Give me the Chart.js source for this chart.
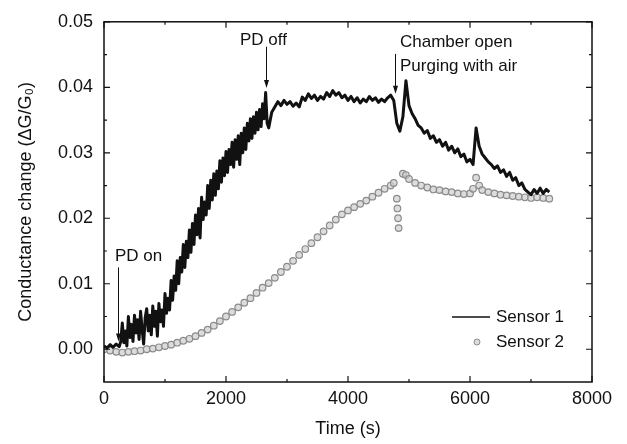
<!DOCTYPE html>
<html><head><meta charset="utf-8">
<script src="https://cdn.jsdelivr.net/npm/chart.js@4"></script>
<style>html,body{margin:0;padding:0;background:#fff}canvas{display:block}</style>
</head><body>
<canvas id="c" width="627" height="444"></canvas>
<script>
const xTicks=[0,2000,4000,6000,8000];
const xMinorTicks=[1000,3000,5000,7000];
const yTicks=[0,0.01,0.02,0.03,0.04,0.05];
const yMinorTicks=[0.005,0.015,0.025,0.035,0.045];
const seriesNames=['Sensor 1','Sensor 2'];
const xTitle='Time (s)';
const yTitle='Conductance change (\u0394G/G\u2080)';

const s1Time=[
0,50,100,150,200,
250,275,300,325,350,375,400,425,450,475,
500,525,550,575,600,625,650,675,700,725,
750,775,800,825,850,875,900,925,950,975,
1000,1025,1050,1075,1100,1125,1150,1175,1200,1225,
1250,1275,1300,1325,1350,1375,1400,1425,1450,1475,
1500,1525,1550,1575,1600,1625,1650,1675,1700,1725,
1750,1775,1800,1825,1850,1875,1900,1925,1950,1975,
2000,2025,2050,2075,2100,2125,2150,2175,2200,2225,
2250,2275,2300,2325,2350,2375,2400,2425,2450,2475,
2500,2525,2550,2575,2600,2625,2650,2675,2700,
2750,2800,2850,2900,2950,
3000,3050,3100,3150,3200,3250,3300,3350,3400,3450,
3500,3550,3600,3650,3700,3750,3800,3850,3900,3950,
4000,4050,4100,4150,4200,4250,4300,4350,4400,4450,
4500,4550,4600,4650,4700,4750,4800,4850,4900,4950,
5000,5050,5100,5150,5200,5250,5300,5350,5400,5450,
5500,5550,5600,5650,5700,5750,5800,5850,5900,5950,
6000,6050,6100,6150,6200,6250,6300,6350,6400,6450,
6500,6550,6600,6650,6700,6750,6800,6850,6900,6950,
7000,7050,7100,7150,7200,7250,7300];
const s1Value=[
0.0005,0.0002,0.0007,0.0003,0.0008,
0.0004,0.0012,0.0040,0.0010,0.0028,0.0005,0.0050,0.0018,0.0038,0.0012,
0.0052,0.0025,0.0045,0.0015,0.0058,0.0030,0.0008,0.0048,0.0062,0.0028,
0.0052,0.0022,0.0066,0.0035,0.0058,0.0020,0.0070,0.0042,0.0060,0.0035,
0.0085,0.0055,0.0078,0.0060,0.0105,0.0075,0.0112,0.0090,0.0135,0.0100,
0.0140,0.0118,0.0160,0.0125,0.0165,0.0140,0.0182,0.0148,0.0192,0.0160,
0.0205,0.0175,0.0215,0.0170,0.0232,0.0198,0.0225,0.0205,0.0250,0.0215,
0.0258,0.0228,0.0268,0.0235,0.0272,0.0245,0.0288,0.0255,0.0292,0.0265,
0.0302,0.0270,0.0305,0.0282,0.0316,0.0278,0.0320,0.0290,0.0326,0.0282,
0.0330,0.0300,0.0338,0.0305,0.0345,0.0318,0.0352,0.0322,0.0355,0.0330,
0.0362,0.0335,0.0366,0.0340,0.0375,0.0352,0.0392,0.0345,0.0338,
0.0362,0.0370,0.0378,0.0372,0.0380,
0.0374,0.0378,0.0371,0.0376,0.0370,0.0385,0.0380,0.0390,0.0383,0.0388,
0.0380,0.0386,0.0382,0.0392,0.0386,0.0395,0.0388,0.0392,0.0384,0.0388,
0.0380,0.0386,0.0378,0.0384,0.0376,0.0382,0.0378,0.0386,0.0380,0.0384,
0.0377,0.0382,0.0378,0.0384,0.0388,0.0380,0.0345,0.0333,0.0355,0.0410,
0.0372,0.0360,0.0352,0.0342,0.0338,0.0330,0.0334,0.0322,0.0326,0.0316,
0.0320,0.0310,0.0316,0.0304,0.0310,0.0300,0.0306,0.0294,0.0298,0.0286,
0.0290,0.0282,0.0338,0.0310,0.0298,0.0292,0.0286,0.0282,0.0276,0.0280,
0.0270,0.0274,0.0264,0.0270,0.0258,0.0262,0.0250,0.0254,0.0244,0.0240,
0.0236,0.0244,0.0238,0.0246,0.0238,0.0244,0.0240];

const s2Time=[
0,100,200,300,400,500,600,700,800,900,
1000,1100,1200,1300,1400,1500,1600,1700,1800,1900,
2000,2100,2200,2300,2400,2500,2600,2700,2800,2900,
3000,3100,3200,3300,3400,3500,3600,3700,3800,3900,
4000,4100,4200,4300,4400,4500,4600,4700,4750,
4800,4810,4820,4830,
4900,4950,5000,5100,5200,5300,5400,5500,5600,5700,5800,5900,
6000,6050,6100,6150,6200,6300,6400,6500,6600,6700,6800,6900,
7000,7100,7200,7300];
const s2Value=[
0.0000,-0.0002,-0.0004,-0.0005,-0.0004,-0.0003,-0.0002,0.0000,0.0001,0.0003,
0.0005,0.0007,0.0010,0.0013,0.0016,0.0020,0.0025,0.0030,0.0036,0.0043,
0.0050,0.0057,0.0064,0.0071,0.0078,0.0086,0.0094,0.0101,0.0109,0.0118,
0.0126,0.0135,0.0144,0.0153,0.0162,0.0171,0.0180,0.0189,0.0198,0.0206,
0.0212,0.0217,0.0222,0.0227,0.0233,0.0239,0.0245,0.0250,0.0254,
0.0230,0.0215,0.0200,0.0185,
0.0268,0.0266,0.0260,0.0254,0.0250,0.0247,0.0244,0.0243,0.0241,0.0240,0.0238,0.0237,
0.0238,0.0245,0.0262,0.0250,0.0243,0.0240,0.0238,0.0236,0.0235,0.0234,0.0233,0.0232,
0.0231,0.0232,0.0231,0.0230];

const noteTexts=[
 {text:'PD on',t:180,v:0.0142},
 {text:'PD off',t:2230,v:0.0472},
 {text:'Chamber open',t:4852,v:0.0468},
 {text:'Purging with air',t:4852,v:0.0432}];
const noteArrows=[
 {t:230,from:0.0125,to:0.0012},
 {t:2650,from:0.0462,to:0.0399},
 {t:4770,from:0.0451,to:0.0390}];

const FONT="'Liberation Sans', Arial, sans-serif";
const INK='#111';

const decorPlugin={id:'decor',afterDatasetsDraw(chart){
 const {ctx,chartArea:a,scales:{x,y}}=chart;
 ctx.save();
 ctx.strokeStyle=INK;ctx.fillStyle=INK;
 ctx.lineWidth=1.5;
 ctx.strokeRect(a.left,a.top,a.right-a.left,a.bottom-a.top);
 ctx.lineWidth=1.2;
 const tickX=(vals,len)=>vals.forEach(v=>{const p=x.getPixelForValue(v);
   ctx.beginPath();ctx.moveTo(p,a.bottom);ctx.lineTo(p,a.bottom-len);
   ctx.moveTo(p,a.top);ctx.lineTo(p,a.top+len);ctx.stroke();});
 const tickY=(vals,len)=>vals.forEach(v=>{const p=y.getPixelForValue(v);
   ctx.beginPath();ctx.moveTo(a.left,p);ctx.lineTo(a.left+len,p);
   ctx.moveTo(a.right,p);ctx.lineTo(a.right-len,p);ctx.stroke();});
 tickX(xTicks,6);tickX(xMinorTicks,3);tickY(yTicks,6);tickY(yMinorTicks,3);
 ctx.lineWidth=1;
 noteArrows.forEach(ar=>{const px=Math.round(x.getPixelForValue(ar.t))+0.5;
   const y0=y.getPixelForValue(ar.from),y1=y.getPixelForValue(ar.to);
   ctx.beginPath();ctx.moveTo(px,y0);ctx.lineTo(px,y1-6);ctx.stroke();
   ctx.beginPath();ctx.moveTo(px-2.5,y1-8);ctx.lineTo(px+2.5,y1-8);ctx.lineTo(px,y1);ctx.closePath();ctx.fill();});
 ctx.font='17px '+FONT;ctx.textBaseline='middle';ctx.textAlign='left';
 noteTexts.forEach(n=>ctx.fillText(n.text,x.getPixelForValue(n.t),y.getPixelForValue(n.v)));
 const ly1=a.bottom-65,ly2=a.bottom-40;
 ctx.lineWidth=1.5;ctx.beginPath();ctx.moveTo(a.right-140,ly1);ctx.lineTo(a.right-102,ly1);ctx.stroke();
 ctx.fillText(seriesNames[0],a.right-96,ly1);
 ctx.lineWidth=1;ctx.strokeStyle='#8c8c8c';ctx.fillStyle='rgba(205,205,205,0.7)';
 ctx.beginPath();ctx.arc(a.right-115,ly2,3,0,Math.PI*2);ctx.fill();ctx.stroke();
 ctx.fillStyle=INK;ctx.fillText(seriesNames[1],a.right-96,ly2);
 ctx.restore();
}};

new Chart(document.getElementById('c'),{
 type:'scatter',
 data:{datasets:[
  {label:seriesNames[0],data:s1Time.map((t,i)=>({x:t,y:s1Value[i]})),showLine:true,
   borderColor:INK,borderWidth:3,pointRadius:0,tension:0,borderJoinStyle:'round'},
  {label:seriesNames[1],data:s2Time.map((t,i)=>({x:t,y:s2Value[i]})),showLine:false,
   borderColor:'#8c8c8c',backgroundColor:'rgba(205,205,205,0.7)',borderWidth:1.2,pointRadius:3.3}
 ]},
 options:{
  responsive:false,animation:false,
  layout:{padding:{left:0,top:14,right:35,bottom:0}},
  plugins:{legend:{display:false},tooltip:{enabled:false}},
  scales:{
   x:{type:'linear',min:0,max:8000,
    grid:{display:false,drawTicks:false},border:{display:false},
    afterBuildTicks:s=>{s.ticks=xTicks.map(v=>({value:v}));},
    afterFit:s=>{s.height=62;},
    ticks:{padding:6,color:INK,font:{family:FONT,size:18},callback:v=>String(v),maxRotation:0},
    title:{display:true,text:xTitle,color:INK,font:{family:FONT,size:18},padding:{top:4,bottom:4}}},
   y:{type:'linear',min:-0.005,max:0.05,
    grid:{display:false,drawTicks:false},border:{display:false},
    afterBuildTicks:s=>{s.ticks=yTicks.map(v=>({value:v}));},
    afterFit:s=>{s.width=104;},
    ticks:{padding:11,color:INK,font:{family:FONT,size:18},callback:v=>Number(v).toFixed(2)},
    title:{display:true,text:yTitle,color:INK,font:{family:FONT,size:18},padding:{top:15,bottom:4}}}
  }
 },
 plugins:[decorPlugin]
});
</script>
</body></html>
